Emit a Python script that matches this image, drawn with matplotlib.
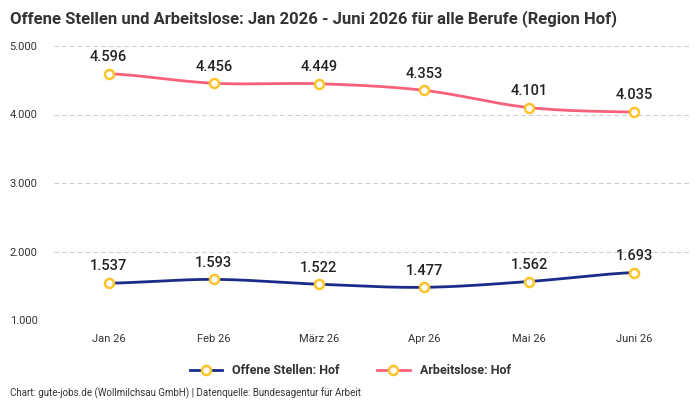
import matplotlib
matplotlib.use("Agg")
import matplotlib.pyplot as plt
import numpy as np
from matplotlib.ticker import FuncFormatter

categories = ["Jan 26", "Feb 26", "März 26", "Apr 26", "Mai 26", "Juni 26"]
offene_stellen = [1537, 1593, 1522, 1477, 1562, 1693]
arbeitslose = [4596, 4456, 4449, 4353, 4101, 4035]
yticks = [1000, 2000, 3000, 4000, 5000]

plt.rcParams['font.family'] = ['Roboto', 'DejaVu Sans']

def smooth(x, y, n=30):
    x = np.asarray(x, float); y = np.asarray(y, float)
    xs, ys = [], []
    m = len(x)
    for i in range(m - 1):
        p0 = y[i - 1] if i > 0 else y[i]
        p1 = y[i]; p2 = y[i + 1]
        p3 = y[i + 2] if i + 2 < m else y[i + 1]
        t = np.linspace(0, 1, n, endpoint=False)
        t2 = t * t; t3 = t2 * t
        yy = 0.5 * ((2 * p1) + (-p0 + p2) * t + (2 * p0 - 5 * p1 + 4 * p2 - p3) * t2 + (-p0 + 3 * p1 - 3 * p2 + p3) * t3)
        xx = x[i] + (x[i + 1] - x[i]) * t
        xs.extend(xx); ys.extend(yy)
    xs.append(x[-1]); ys.append(y[-1])
    return np.array(xs), np.array(ys)

fig = plt.figure(figsize=(7, 4), dpi=100)
ax = fig.add_axes([54 / 700, 1 - 320 / 400, (689 - 54) / 700, (320 - 46) / 400])

x = np.arange(len(categories))
navy = '#1c2b89'
pink = '#f6627b'
yellow = '#fbc42a'

for vals, col, lab in [(offene_stellen, navy, 'Offene Stellen: Hof'), (arbeitslose, pink, 'Arbeitslose: Hof')]:
    sx, sy = smooth(x, vals)
    ax.plot(sx, sy, color=col, lw=2, zorder=3)
    ax.plot(x, vals, ls='none', marker='o', ms=6.5, mfc='white', mec=yellow, mew=1.8, zorder=4)
    for xi, v in zip(x, vals):
        ax.annotate(f"{v:,}".replace(',', '.'), (xi, v), xytext=(0, 7), textcoords='offset points',
                    ha='center', va='bottom', fontsize=10.5, fontweight='medium', color='#222222', zorder=5)
    ax.plot([], [], color=col, lw=2, marker='o', ms=6.5, mfc='white', mec=yellow, mew=1.8, label=lab)

ax.set_xlim(-0.52, len(categories) - 0.48)
ax.set_ylim(1000, 5000)
ax.set_yticks(yticks)
ax.yaxis.set_major_formatter(FuncFormatter(lambda v, p: f"{int(v):,}".replace(',', '.')))
ax.set_xticks(x)
ax.set_xticklabels(categories)
ax.tick_params(axis='both', length=0, labelsize=8, colors='#333333')
ax.tick_params(axis='x', pad=10)
ax.tick_params(axis='y', pad=32)
for lbl in ax.get_yticklabels():
    lbl.set_horizontalalignment('left')
ax.grid(axis='y', color='#cccccc', ls=(0, (4, 3)), lw=0.8)
ax.set_axisbelow(True)
for s in ax.spines.values():
    s.set_visible(False)

leg = fig.legend(loc='center', bbox_to_anchor=(350 / 700, 1 - 371 / 400), ncol=2, frameon=False,
                 prop={'weight': 'bold', 'size': 9}, handlelength=2.6, columnspacing=3)
for t in leg.get_texts():
    t.set_color('#333333')

fig.text(10 / 700, 1 - 10 / 400, "Offene Stellen und Arbeitslose: Jan 2026 - Juni 2026 für alle Berufe (Region Hof)",
         ha='left', va='top', fontsize=12, fontweight='bold', color='#333333')
fig.text(10 / 700, 1 - 393 / 400, "Chart: gute-jobs.de (Wollmilchsau GmbH) | Datenquelle: Bundesagentur für Arbeit",
         ha='left', va='center', fontsize=7, color='#333333')

fig.savefig('out.png', dpi=100)
